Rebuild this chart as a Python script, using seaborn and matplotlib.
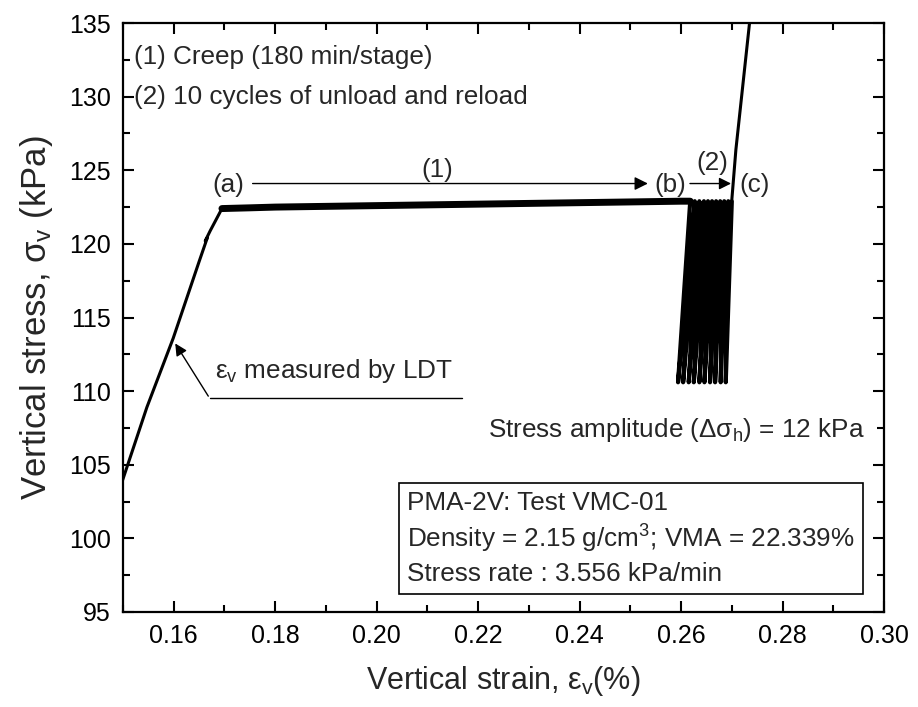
import matplotlib
matplotlib.use("Agg")
import matplotlib.pyplot as plt
import seaborn as sns
import pandas as pd
from matplotlib.ticker import MultipleLocator

# ---- data ----
load_strain = [0.1490, 0.1547, 0.1599, 0.1650, 0.1666, 0.1662, 0.1672, 0.1695]
load_stress = [103.0, 108.9, 113.6, 118.8, 120.4, 120.2, 120.9, 122.4]

creep_strain = [0.1695, 0.1750, 0.1800, 0.1900, 0.2000, 0.2100, 0.2200, 0.2300, 0.2400, 0.2500, 0.2600, 0.2618]
creep_stress = [122.4, 122.45, 122.5, 122.55, 122.6, 122.65, 122.7, 122.75, 122.8, 122.85, 122.9, 122.9]

cycle_top_strain = [0.2618, 0.2627, 0.2636, 0.2645, 0.2653, 0.2661, 0.2669, 0.2677, 0.2685, 0.2693, 0.2700]
cycle_mid_unload_strain = [0.2606, 0.2615, 0.2625, 0.2634, 0.2644, 0.2653, 0.2662, 0.2671, 0.2680, 0.2689]
cycle_bottom_strain = [0.2594, 0.2604, 0.2615, 0.2625, 0.2636, 0.2646, 0.2657, 0.2667, 0.2678, 0.2688]
cycle_mid_reload_strain = [0.2611, 0.2620, 0.2630, 0.2639, 0.2648, 0.2657, 0.2666, 0.2675, 0.2684, 0.2694]
cycle_top_stress = 122.9
cycle_mid_stress = 116.8
cycle_bottom_stress = 110.6

reload_strain = [0.2700, 0.2708, 0.2738]
reload_stress = [123.0, 126.4, 136.0]

x_ticks = [0.16, 0.18, 0.20, 0.22, 0.24, 0.26, 0.28, 0.30]
y_ticks = [95, 100, 105, 110, 115, 120, 125, 130, 135]

# ---- build cycle path ----
cyc_x, cyc_y = [], []
for i in range(len(cycle_bottom_strain)):
    cyc_x += [cycle_top_strain[i], cycle_mid_unload_strain[i], cycle_bottom_strain[i], cycle_mid_reload_strain[i]]
    cyc_y += [cycle_top_stress, cycle_mid_stress, cycle_bottom_stress, cycle_mid_stress]
cyc_x.append(cycle_top_strain[-1])
cyc_y.append(cycle_top_stress)

sns.set_theme(style="ticks")
plt.rcParams['font.family'] = ['Liberation Sans', 'DejaVu Sans']
plt.rcParams['mathtext.fontset'] = 'custom'
plt.rcParams['mathtext.rm'] = 'Liberation Sans'
plt.rcParams['mathtext.it'] = 'Liberation Sans'

fig = plt.figure(figsize=(9.18, 7.07), dpi=100)
ax = fig.add_axes([0.134, 0.1344, 0.829, 0.833])

df_load = pd.DataFrame({"x": load_strain, "y": load_stress})
df_creep = pd.DataFrame({"x": creep_strain, "y": creep_stress})
df_cyc = pd.DataFrame({"x": cyc_x, "y": cyc_y})
df_rel = pd.DataFrame({"x": reload_strain, "y": reload_stress})

kw = dict(x="x", y="y", sort=False, estimator=None, errorbar=None, color="black", ax=ax)
sns.lineplot(data=df_load, lw=2.2, **kw)
sns.lineplot(data=df_creep, lw=5, **kw)
sns.lineplot(data=df_cyc, lw=3.0, **kw)
sns.lineplot(data=df_rel, lw=2.2, **kw)

ax.set_xlim(0.15, 0.30)
ax.set_ylim(95, 135)
ax.set_xticks(x_ticks)
ax.set_xticklabels([f"{v:.2f}" for v in x_ticks])
ax.set_yticks(y_ticks)
ax.xaxis.set_minor_locator(MultipleLocator(0.01))
ax.yaxis.set_minor_locator(MultipleLocator(2.5))
ax.tick_params(which="both", direction="in", top=True, right=True, width=1.5, labelsize=18, colors="black")
ax.tick_params(which="major", length=8, pad=9)
ax.tick_params(which="minor", length=5)
for s in ax.spines.values():
    s.set_linewidth(1.6)
    s.set_color("black")

ax.set_xlabel(r"Vertical strain, $\epsilon_\mathrm{v}$(%)", fontsize=22, labelpad=11)
ax.set_ylabel(r"Vertical stress, $\sigma_\mathrm{v}$ (kPa)", fontsize=25, labelpad=10)

fs = 18.8
ax.text(0.1522, 132.7, "(1) Creep (180 min/stage)", fontsize=fs, va="center")
ax.text(0.1522, 130.0, "(2) 10 cycles of unload and reload", fontsize=fs, va="center")

ax.text(0.1708, 124.0, "(a)", fontsize=fs, va="center", ha="center")
ax.annotate("", xy=(0.2540, 124.1), xytext=(0.1750, 124.1),
            arrowprops=dict(arrowstyle="-|>", color="black", lw=1.0, mutation_scale=20))
ax.text(0.2119, 125.0, "(1)", fontsize=fs, va="center", ha="center")
ax.text(0.2578, 124.0, "(b)", fontsize=fs, va="center", ha="center")
ax.annotate("", xy=(0.2704, 124.1), xytext=(0.2612, 124.1),
            arrowprops=dict(arrowstyle="-|>", color="black", lw=1.0, mutation_scale=18))
ax.text(0.2661, 125.5, "(2)", fontsize=fs, va="center", ha="center")
ax.text(0.2744, 124.0, "(c)", fontsize=fs, va="center", ha="center")

# leader for LDT label
ax.annotate("", xy=(0.1600, 113.4), xytext=(0.1671, 109.5),
            arrowprops=dict(arrowstyle="-|>", color="black", lw=1.0, mutation_scale=18))
ax.plot([0.1671, 0.2168], [109.5, 109.5], color="black", lw=1.0)
ax.text(0.1681, 111.4, r"$\epsilon_\mathrm{v}$ measured by LDT", fontsize=fs, va="center")

ax.text(0.2963, 107.35, r"Stress amplitude ($\Delta\sigma_\mathrm{h}$) = 12 kPa", fontsize=fs,
        va="center", ha="right")

ax.text(0.2060, 100.0, "PMA-2V: Test VMC-01\nDensity = 2.15 g/cm$^3$; VMA = 22.339%\nStress rate : 3.556 kPa/min",
        fontsize=fs, va="center", ha="left", linespacing=1.35,
        bbox=dict(boxstyle="square,pad=0.3", fc="white", ec="black", lw=1.2))

fig.savefig("out.png", dpi=100)
